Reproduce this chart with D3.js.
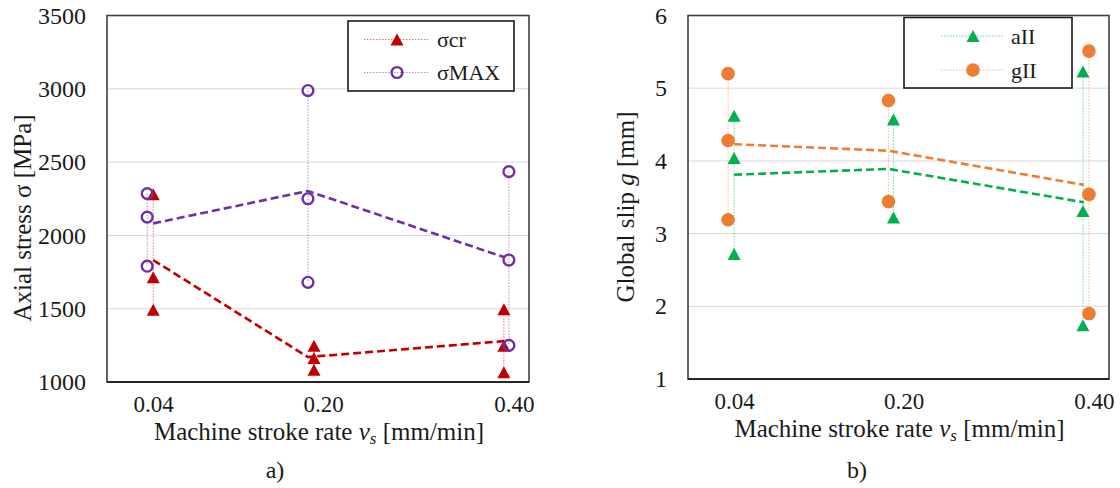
<!DOCTYPE html>
<html>
<head>
<meta charset="utf-8">
<script src="https://cdn.jsdelivr.net/npm/d3@7"></script>
<style>
  body { margin: 0; background: #fff; }
  text { font-family: "Liberation Serif", "Times New Roman", serif; fill: #1a1a1a; }
</style>
</head>
<body>
<svg width="1120" height="488"></svg>
<script>
var WIDTH = 1120;
var HEIGHT = 488;

// shared x (stroke rate) labels, placed where the picture puts them
var rateLabels = ["0.04", "0.20", "0.40"];
var rateLabelPos = [0.046, 0.215, 0.405];
var meanX = [0.046, 0.2, 0.395];

// panel a) axial stress
var stressTicks = [1000, 1500, 2000, 2500, 3000, 3500];
var crX = [0.046, 0.206, 0.395];
var crValues = [[2280, 1715, 1492], [1248, 1163, 1083], [1497, 1248, 1066]];
var crMean = [1832, 1170, 1279];
var maxX = [0.04, 0.2, 0.4];
var maxValues = [[2285, 2125, 1790], [2988, 2250, 1680], [2435, 1832, 1250]];
var maxMean = [2082, 2303, 1852];

// panel b) global slip
var slipTicks = [1, 2, 3, 4, 5, 6];
var aX = [0.046, 0.205, 0.394];
var aValues = [[4.62, 4.04, 2.72], [4.57, 3.22], [5.23, 3.31, 1.74]];
var aMean = [3.81, 3.89, 3.43];
var gX = [0.04, 0.2, 0.4];
var gValues = [[5.2, 4.28, 3.19], [4.83, 3.44], [5.51, 3.54, 1.9]];
var gMean = [4.23, 4.14, 3.67];

var svg = d3.select("svg")
    .attr("width", WIDTH)
    .attr("height", HEIGHT);

function triangle(w, h) {
    return "M0," + (-h / 2) + "L" + (w / 2) + "," + (h / 2) + "L" + (-w / 2) + "," + (h / 2) + "Z";
}

function drawMarker(g, type, color, x, y) {
    if (type == "tri") {
        g.append("path").attr("d", triangle(13, 12))
            .attr("transform", "translate(" + x + "," + y + ")")
            .attr("fill", color);
    } else if (type == "ring") {
        g.append("circle").attr("cx", x).attr("cy", y).attr("r", 5.4)
            .attr("fill", "none").attr("stroke", color).attr("stroke-width", 2.4);
    } else {
        g.append("circle").attr("cx", x).attr("cy", y).attr("r", 6.8)
            .attr("fill", color);
    }
}

function drawPanel(p) {
    var x = d3.scaleLinear().domain([0, 0.42]).range([p.x0, p.x1]);
    var y = d3.scaleLinear().domain(p.yDomain).range([p.y1, p.y0]);
    var g = svg.append("g");

    // gridlines
    g.append("g").selectAll("line")
        .data(p.yTicks.slice(1, -1))
        .enter().append("line")
        .attr("x1", p.x0).attr("x2", p.x1)
        .attr("y1", function(d) { return y(d); })
        .attr("y2", function(d) { return y(d); })
        .attr("stroke", "#d9d9d9").attr("stroke-width", 1);

    // thin dotted connectors inside each rate group
    p.series.forEach(function(s) {
        s.values.forEach(function(vals, i) {
            g.append("line")
                .attr("x1", x(s.x[i])).attr("x2", x(s.x[i]))
                .attr("y1", y(d3.max(vals))).attr("y2", y(d3.min(vals)))
                .attr("stroke", s.color).attr("stroke-opacity", 0.55)
                .attr("stroke-width", 1).attr("stroke-dasharray", "1.5,1.5");
        });
    });

    // dashed mean lines
    var line = d3.line()
        .x(function(d, i) { return x(meanX[i]); })
        .y(function(d) { return y(d); });
    p.series.forEach(function(s) {
        g.append("path").datum(s.mean)
            .attr("d", line)
            .attr("fill", "none").attr("stroke", s.color)
            .attr("stroke-width", 2.6).attr("stroke-dasharray", "8,4");
    });

    // markers
    p.series.forEach(function(s) {
        s.values.forEach(function(vals, i) {
            vals.forEach(function(v) {
                drawMarker(g, s.marker, s.color, x(s.x[i]), y(v));
            });
        });
    });

    // frame
    g.append("rect")
        .attr("x", p.x0).attr("y", p.y0)
        .attr("width", p.x1 - p.x0).attr("height", p.y1 - p.y0)
        .attr("fill", "none").attr("stroke", "#404040").attr("stroke-width", 1.6);
    g.append("line")
        .attr("x1", p.x0).attr("x2", p.x1).attr("y1", p.y1).attr("y2", p.y1)
        .attr("stroke", "#262626").attr("stroke-width", 2.2);

    // axes
    var ya = g.append("g")
        .attr("transform", "translate(" + p.x0 + ",0)")
        .call(d3.axisLeft(y).tickValues(p.yTicks).tickFormat(d3.format("d"))
            .tickSize(0).tickPadding(21));
    ya.select(".domain").remove();
    ya.selectAll("text").style("font-size", "24px");

    var xa = g.append("g")
        .attr("transform", "translate(0," + p.y1 + ")")
        .call(d3.axisBottom(x).tickValues(rateLabelPos)
            .tickFormat(function(d, i) { return rateLabels[i]; }).tickSize(0));
    xa.select(".domain").remove();
    xa.selectAll("text").attr("y", 22).attr("dy", "0.35em")
        .style("font-size", "23px");

    // x title
    var xt = g.append("text")
        .attr("x", (p.x0 + p.x1) / 2 + 1).attr("y", p.y1 + 58)
        .attr("text-anchor", "middle").style("font-size", "25px");
    xt.append("tspan").text("Machine stroke rate ");
    xt.append("tspan").style("font-style", "italic").text("v");
    xt.append("tspan").style("font-style", "italic").style("font-size", "17px")
        .attr("dy", 4).text("s");
    xt.append("tspan").attr("dy", -4).text(" [mm/min]");

    // y title
    var yt = g.append("text")
        .attr("transform", "translate(" + p.yTitleX + "," + p.yTitleY + ") rotate(-90)")
        .attr("text-anchor", "middle").attr("dy", "0.35em")
        .style("font-size", "25px");
    p.yTitle.forEach(function(part) {
        yt.append("tspan").style("font-style", part[1] ? "italic" : "normal").text(part[0]);
    });

    // panel letter
    g.append("text").attr("x", p.letterX).attr("y", 470).attr("dy", "0.35em")
        .attr("text-anchor", "middle").style("font-size", "24px").text(p.letter);

    // legend
    var L = p.legend;
    g.append("rect").attr("x", L.x0).attr("y", L.y0)
        .attr("width", L.x1 - L.x0).attr("height", L.y1 - L.y0)
        .attr("fill", "#fff").attr("stroke", "#1a1a1a").attr("stroke-width", 1.6);
    p.series.forEach(function(s, i) {
        var ry = L.rows[i];
        g.append("line").attr("x1", L.lx0).attr("x2", L.lx1)
            .attr("y1", ry).attr("y2", ry)
            .attr("stroke", s.color).attr("stroke-opacity", 0.55)
            .attr("stroke-width", 1).attr("stroke-dasharray", "1.5,1.5");
        drawMarker(g, s.marker, s.color, L.mx, ry);
        g.append("text").attr("x", L.tx).attr("y", ry).attr("dy", "0.35em")
            .style("font-size", "22px").text(s.name);
    });
}

drawPanel({
    x0: 107, x1: 529, y0: 15.5, y1: 382,
    yDomain: [1000, 3500], yTicks: stressTicks,
    yTitle: [["Axial stress \u03c3 [MPa]", false]], yTitleX: 22, yTitleY: 218,
    letter: "a)", letterX: 275,
    series: [
        {name: "\u03c3cr", color: "#c00000", marker: "tri", x: crX, values: crValues, mean: crMean},
        {name: "\u03c3MAX", color: "#7030a0", marker: "ring", x: maxX, values: maxValues, mean: maxMean}
    ],
    legend: {x0: 348, x1: 514, y0: 21, y1: 91, rows: [39.5, 72.5], lx0: 364, lx1: 428, mx: 397, tx: 437}
});

drawPanel({
    x0: 688, x1: 1109, y0: 15.5, y1: 379,
    yDomain: [1, 6], yTicks: slipTicks,
    yTitle: [["Global slip ", false], ["g", true], [" [mm]", false]], yTitleX: 625, yTitleY: 207,
    letter: "b)", letterX: 857,
    series: [
        {name: "aII", color: "#00b050", marker: "tri", x: aX, values: aValues, mean: aMean},
        {name: "gII", color: "#ed7d31", marker: "dot", x: gX, values: gValues, mean: gMean}
    ],
    legend: {x0: 904, x1: 1072, y0: 17.5, y1: 88, rows: [36, 70], lx0: 941, lx1: 1003, mx: 973, tx: 1011}
});
</script>
</body>
</html>
